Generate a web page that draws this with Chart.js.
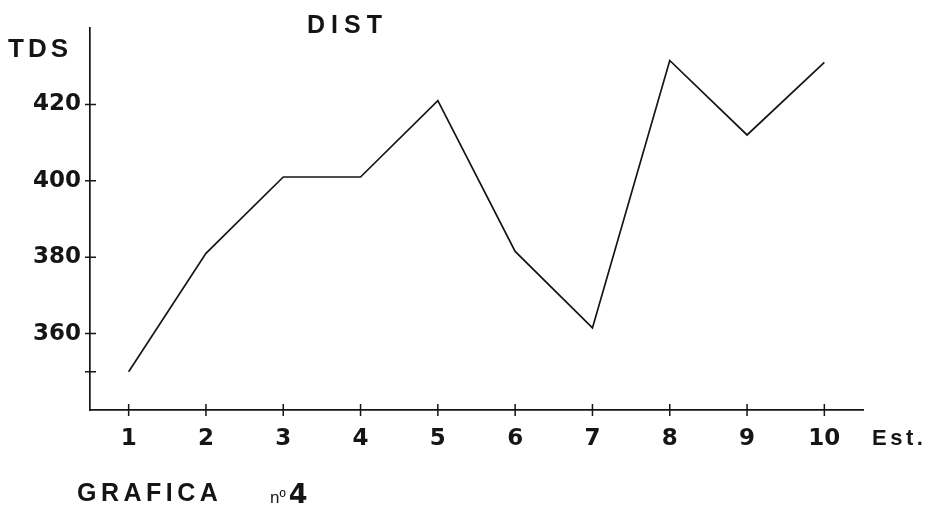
<!DOCTYPE html>
<html>
<head>
<meta charset="utf-8">
<script src="https://cdn.jsdelivr.net/npm/chart.js@4.4.0/dist/chart.umd.min.js"></script>
<style>
  html, body { margin: 0; padding: 0; background: #fff; }
  #wrap { position: relative; width: 932px; height: 508px; }
  .lbl { position: absolute; color: #151515; font-family: 'Liberation Sans', Arial, sans-serif; font-weight: bold; white-space: nowrap; line-height: 1; }
</style>
</head>
<body>
<div id="wrap">
  <canvas id="chart" width="932" height="508"></canvas>
  <div class="lbl" style="left:8px; top:35px; font-size:26px; letter-spacing:4px;">TDS</div>
  <div class="lbl" style="left:307px; top:12px; font-size:25px; letter-spacing:6px;">DIST</div>
  <div class="lbl" style="left:872px; top:427px; font-size:22px; letter-spacing:3.5px;">Est.</div>
  <div class="lbl" style="left:77px; top:480px; font-size:25px; letter-spacing:4.5px;">GRAFICA</div>
  <div class="lbl" style="left:270px; top:480px;"><span style="font-size:17px; font-weight:normal;">nº</span><span style="font-family:'DejaVu Sans'; font-size:27px; font-weight:900; margin-left:3px;">4</span></div>
</div>
<script>
// stations on the x axis, TDS readings on the y axis
const stations = [1, 2, 3, 4, 5, 6, 7, 8, 9, 10];
const tdsValues = [350, 381, 401, 401, 421, 381.5, 361.5, 431.5, 412, 431];
const yTicks = [350, 360, 380, 400, 420];
const yLabelled = [360, 380, 400, 420];

const ink = '#151515';
const tickFont = { family: "'DejaVu Sans', sans-serif", size: 23, weight: 'bold' };

// tick marks that cross the axis line, like the hand drawn original
const crossTicks = {
  id: 'crossTicks',
  afterDatasetsDraw(chart) {
    const { ctx, scales: { x, y } } = chart;
    ctx.save();
    ctx.strokeStyle = ink;
    ctx.lineWidth = 1.5;
    ctx.beginPath();
    x.ticks.forEach(t => {
      const px = x.getPixelForValue(t.value);
      ctx.moveTo(px, x.top - 6);
      ctx.lineTo(px, x.top + 6);
    });
    y.ticks.forEach(t => {
      const py = y.getPixelForValue(t.value);
      ctx.moveTo(y.right - 5, py);
      ctx.lineTo(y.right + 6, py);
    });
    ctx.stroke();
    ctx.restore();
  }
};

new Chart(document.getElementById('chart'), {
  type: 'line',
  data: {
    datasets: [{
      data: stations.map((s, i) => ({ x: s, y: tdsValues[i] })),
      borderColor: ink,
      borderWidth: 1.7,
      pointRadius: 0,
      tension: 0,
      fill: false
    }]
  },
  options: {
    responsive: false,
    animation: false,
    layout: { padding: { top: 28, right: 69, left: 0, bottom: 0 } },
    plugins: {
      legend: { display: false },
      tooltip: { enabled: false }
    },
    scales: {
      x: {
        type: 'linear',
        min: 0.5,
        max: 10.5,
        afterBuildTicks: scale => { scale.ticks = stations.map(v => ({ value: v })); },
        afterFit: scale => { scale.height = 98; },
        grid: { display: false, drawTicks: false },
        border: { display: true, color: ink, width: 1.7 },
        ticks: { color: ink, font: tickFont, padding: 15, maxRotation: 0, autoSkip: false }
      },
      y: {
        min: 340,
        max: 440,
        afterBuildTicks: scale => { scale.ticks = yTicks.map(v => ({ value: v })); },
        afterFit: scale => { scale.width = 90; },
        grid: { display: false, drawTicks: false },
        border: { display: true, color: ink, width: 1.7 },
        ticks: {
          color: ink,
          font: tickFont,
          padding: 9,
          autoSkip: false,
          callback: v => yLabelled.includes(v) ? String(v) : ''
        }
      }
    }
  },
  plugins: [crossTicks]
});
</script>
</body>
</html>
